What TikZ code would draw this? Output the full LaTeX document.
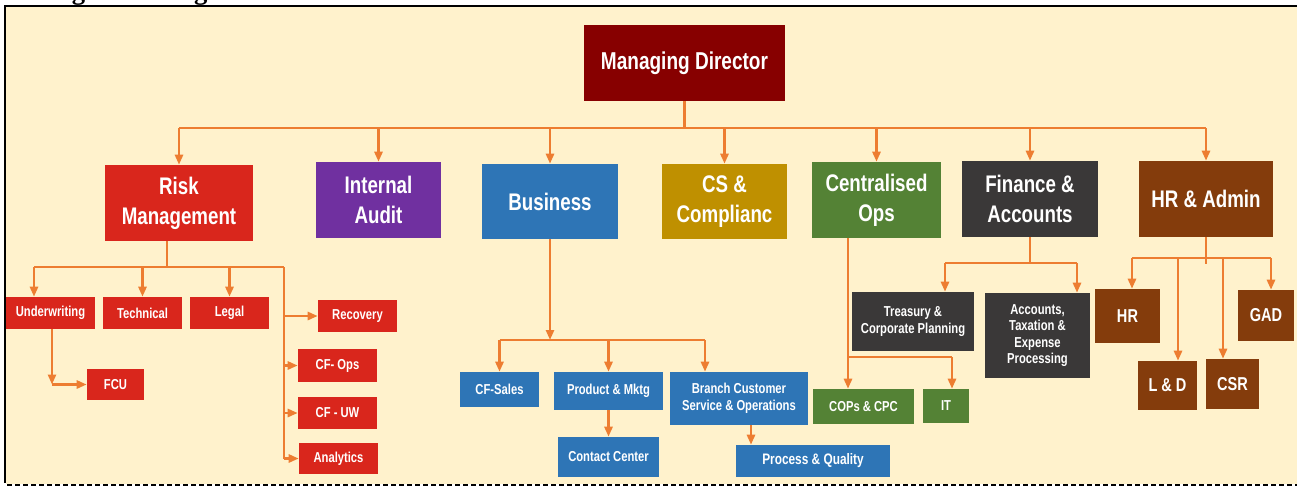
\documentclass[tikz,border=0pt]{standalone}
\usepackage{fontspec}
\usetikzlibrary{arrows.meta}
\newfontfamily\boxfont{Liberation Sans}[FakeStretch=0.78]
\newfontfamily\headfont{Liberation Serif}
\definecolor{cream}{HTML}{FFF2CC}
\definecolor{linkorange}{HTML}{ED7D31}
\definecolor{mdred}{HTML}{870000}
\definecolor{riskred}{HTML}{D9261C}
\definecolor{auditpurple}{HTML}{7030A0}
\definecolor{bizblue}{HTML}{2E75B6}
\definecolor{csgold}{HTML}{BF9000}
\definecolor{opsgreen}{HTML}{548235}
\definecolor{fingrey}{HTML}{3A3838}
\definecolor{hrbrown}{HTML}{843C0C}

\begin{document}
\begin{tikzpicture}[x=0.75pt,y=-0.75pt,
        box/.style 2 args={inner sep=0pt,align=center,text=white,minimum width=0.75*#1pt,minimum height=0.75*#2pt},
        top/.style={font=\boxfont\bfseries\fontsize{18.3}{22}\selectfont},
        head/.style={font=\boxfont\bfseries\fontsize{18}{22.5}\selectfont},
        small/.style={font=\boxfont\bfseries\fontsize{10.8}{12.4}\selectfont},
        big/.style={font=\boxfont\bfseries\fontsize{14}{16}\selectfont},
        link/.style={draw=linkorange,line width=2pt},
        arr/.style={link,-{Triangle[width=6pt,length=7.5pt]}}]

    \useasboundingbox (0,0) rectangle (1303,490);
    \fill[cream] (6,7) rectangle (1297,484);
    \draw[line width=1.5pt] (5,483) -- (5,6) -- (1297,6);
    \draw[line width=1.5pt,dash pattern=on 4pt off 2pt] (7,485) -- (1297,485);
    \node[anchor=base west,inner sep=0pt,font=\headfont\bfseries\fontsize{20}{24}\selectfont] (title) at (5,-1) {Management Organisation Structure};

    \node[box={201}{76},top,fill=mdred] (md) at (684.5,63) {Managing Director};

    \node[box={148}{76},head,fill=riskred] (risk) at (179,203) {Risk\\Management};
    \node[box={125}{76},head,fill=auditpurple] (audit) at (378.5,200) {Internal\\Audit};
    \node[box={136}{75},head,fill=bizblue] (biz) at (550,201.5) {Business};
    \node[box={125}{75},head,fill=csgold] (cs) at (724.5,201.5) {CS \&\\Complianc};
    \node[box={129}{76},head,fill=opsgreen] (cops) at (876.5,200) {Centralised\\Ops};
    \node[box={136}{76},head,fill=fingrey] (fin) at (1030,199) {Finance \&\\Accounts};
    \node[box={134}{76},head,fill=hrbrown] (hradm) at (1206,199) {HR \& Admin};

    \node[box={89}{32},small,fill=riskred] (uw) at (50.5,313) {Underwriting};
    \node[box={79}{32},small,fill=riskred] (tech) at (142.5,313) {Technical};
    \node[box={79}{32},small,fill=riskred] (legal) at (229.5,313) {Legal};
    \node[box={79}{32},small,fill=riskred] (recov) at (357.5,316) {Recovery};
    \node[box={79}{33},small,fill=riskred] (cfops) at (337.5,365.5) {CF- Ops};
    \node[box={79}{32},small,fill=riskred] (cfuw) at (337.5,413) {CF - UW};
    \node[box={79}{31},small,fill=riskred] (analyt) at (338.5,458.5) {Analytics};
    \node[box={57}{31},small,fill=riskred] (fcu) at (115.5,384.5) {FCU};

    \node[box={79}{35},small,fill=bizblue] (cfsales) at (499.5,389.5) {CF-Sales};
    \node[box={109}{38},small,fill=bizblue] (prod) at (608.5,391) {Product \& Mktg};
    \node[box={138}{53},small,fill=bizblue] (branch) at (739,398.5) {Branch Customer\\Service \& Operations};
    \node[box={101}{40},small,fill=bizblue] (contact) at (608.5,457) {Contact Center};
    \node[box={154}{32},small,fill=bizblue,font=\boxfont\bfseries\fontsize{11.4}{13}\selectfont] (procq) at (813,461) {Process \& Quality};

    \node[box={101}{35},small,fill=opsgreen] (copc) at (863.5,406.5) {COPs \& CPC};
    \node[box={46}{34},small,fill=opsgreen] (it) at (946,406) {IT};

    \node[box={122}{59},small,fill=fingrey] (treas) at (913,321.5) {Treasury \&\\Corporate Planning};
    \node[box={105}{85},small,fill=fingrey] (acct) at (1037.5,335.5) {Accounts,\\Taxation \&\\Expense\\Processing};

    \node[box={65}{54},big,fill=hrbrown] (hr) at (1127.5,316) {HR};
    \node[box={59}{49},big,fill=hrbrown] (ld) at (1167.5,385.5) {L \& D};
    \node[box={53}{50},big,fill=hrbrown] (csr) at (1232.5,384) {CSR};
    \node[box={56}{51},big,fill=hrbrown] (gad) at (1266,315.5) {GAD};

    \coordinate (bus) at (0,128);
    \draw[link] (md.south) -- (md.south |- bus);
    \draw[link] (risk.north |- bus) -- (hradm.north |- bus);
    \foreach \n in {risk,audit,biz,cs,cops,fin,hradm}
        \draw[arr] (\n.north |- bus) -- (\n.north);

    \coordinate (r0) at (167,267);
    \coordinate (r1) at (34,267);
    \coordinate (r2) at (284,267);
    \draw[link] (r0 |- risk.south) -- (r0);
    \draw[link] (r1) -- (r2);
    \draw[arr] (r1) -- (r1 |- uw.north);
    \foreach \n in {tech,legal}
        \draw[arr] (\n.north |- r1) -- (\n.north);
    \draw[link] (r2) -- (r2 |- analyt);
    \foreach \n in {recov,cfops,cfuw,analyt}
        \draw[arr] (r2 |- \n) -- (\n.west);
    \coordinate (u1) at (52,0);
    \draw[arr] (u1 |- uw.south) -- (u1 |- fcu);
    \draw[arr] (u1 |- fcu) -- (fcu.west);

    \coordinate (b0) at (0,340);
    \coordinate (b3) at (705,340);
    \draw[arr] (biz.south) -- (biz.south |- b0);
    \draw[link] (cfsales.north |- b0) -- (b3);
    \foreach \n in {cfsales,prod}
        \draw[arr] (\n.north |- b0) -- (\n.north);
    \draw[arr] (b3) -- (b3 |- branch.north);
    \draw[arr] (prod.south) -- (contact.north);
    \coordinate (q1) at (751,0);
    \draw[arr] (q1 |- branch.south) -- (q1 |- procq.north);

    \coordinate (o1) at (848,357);
    \coordinate (o2) at (952,357);
    \draw[arr] (o1 |- cops.south) -- (o1 |- copc.north);
    \draw[link] (o1) -- (o2);
    \draw[arr] (o2) -- (o2 |- it.north);

    \coordinate (f1) at (945,263);
    \coordinate (f2) at (1077,263);
    \draw[link] (fin.south) -- (fin.south |- f1);
    \draw[link] (f1) -- (f2);
    \draw[arr] (f1) -- (f1 |- treas.north);
    \draw[arr] (f2) -- (f2 |- acct.north);

    \coordinate (h1) at (1132,258);
    \coordinate (h2) at (1178,258);
    \coordinate (h3) at (1223,258);
    \coordinate (h4) at (1271,258);
    \draw[link] (hradm.south) -- ++(0,27);
    \draw[link] (h1) -- (h4);
    \draw[arr] (h1) -- (h1 |- hr.north);
    \draw[arr] (h2) -- (h2 |- ld.north);
    \draw[arr] (h3) -- (h3 |- csr.north);
    \draw[arr] (h4) -- (h4 |- gad.north);
\end{tikzpicture}
\end{document}
